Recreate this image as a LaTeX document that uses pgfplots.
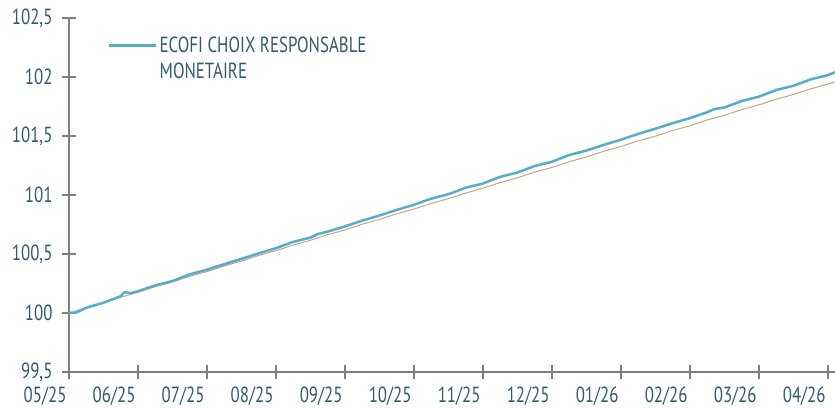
\documentclass[border=0pt]{standalone}
\usepackage{pgfplots}
\pgfplotsset{compat=1.18}
\usepackage{fontspec}
\setmainfont{PT Sans}[FakeStretch=0.77]
\definecolor{txt}{HTML}{2F5B6C}
\definecolor{ax}{HTML}{7F7F7F}
\definecolor{blu}{HTML}{55ADC8}
\definecolor{brn}{HTML}{C4A484}
\begin{document}
\begin{tikzpicture}
\begin{axis}[name=a,
  scale only axis, width=766bp, height=354bp,
  xmin=0, xmax=11.1, ymin=99.5, ymax=102.5,
  axis x line=bottom, axis y line=left,
  axis line style={-, draw=ax, line width=1.3bp},
  tick style={draw=ax, line width=1.3bp},
  tick align=center, major tick length=14bp,
  xtick={0,1,2,3,4,5,6,7,8,9,10,11},
  xticklabels={05/25,06/25,07/25,08/25,09/25,10/25,11/25,12/25,01/26,02/26,03/26,04/26},
  ytick={99.5,100,100.5,101,101.5,102,102.5},
  yticklabels={{99,5},100,{100,5},101,{101,5},102,{102,5}},
  xticklabel style={anchor=north east, xshift=1bp, yshift=-4bp},
  yticklabel style={xshift=-6bp},
  ticklabel style={font=\fontsize{22}{24}\selectfont, text=txt},
  /pgf/number format/assume math mode=true,
  legend style={draw=none, fill=none, at={(0.047,0.958)}, anchor=north west,
    font=\fontsize{22}{24}\selectfont, text=txt, row sep=5bp,
    legend cell align=left},
  legend image code/.code={\draw[#1] (0bp,0bp) -- (47bp,0bp);},
  clip=false,
]
\addplot[brn, line width=1bp, forget plot] coordinates {
(0,100.000)(0.25,100.046)(0.5,100.086)(0.75,100.134)(1.0,100.175)(1.25,100.223)(1.5,100.263)(1.75,100.311)
(2.0,100.351)(2.25,100.399)(2.5,100.440)(2.75,100.488)(3.0,100.528)(3.25,100.576)(3.5,100.616)(3.75,100.664)
(4.0,100.704)(4.25,100.753)(4.5,100.793)(4.75,100.841)(5.0,100.881)(5.25,100.929)(5.5,100.969)(5.75,101.017)
(6.0,101.058)(6.25,101.106)(6.5,101.146)(6.75,101.194)(7.0,101.234)(7.25,101.282)(7.5,101.323)(7.75,101.371)
(8.0,101.411)(8.25,101.459)(8.5,101.499)(8.75,101.547)(9.0,101.587)(9.25,101.636)(9.5,101.676)(9.75,101.724)
(10.0,101.764)(10.25,101.812)(10.5,101.852)(10.75,101.900)(11.0,101.941)(11.1,101.960)
};
\addplot[blu, line width=2.5bp] coordinates {
(0,100.000)(0.1,100.002)(0.25,100.045)(0.5,100.087)(0.75,100.142)(0.8,100.175)(0.9,100.170)(1.0,100.184)
(1.25,100.235)(1.5,100.271)(1.75,100.328)(2.0,100.367)(2.25,100.414)(2.5,100.459)(2.75,100.506)
(3.0,100.549)(3.25,100.603)(3.5,100.639)(3.6,100.668)(3.75,100.690)(4.0,100.734)(4.25,100.783)
(4.5,100.826)(4.75,100.874)(5.0,100.918)(5.25,100.969)(5.5,101.007)(5.75,101.062)(6.0,101.098)
(6.25,101.154)(6.5,101.191)(6.75,101.246)(7.0,101.282)(7.25,101.339)(7.5,101.377)(7.75,101.425)
(8.0,101.469)(8.25,101.518)(8.5,101.562)(8.75,101.609)(9.0,101.652)(9.25,101.702)(9.35,101.728)
(9.5,101.742)(9.75,101.797)(10.0,101.834)(10.25,101.890)(10.5,101.926)(10.75,101.980)(11.0,102.017)(11.1,102.040)
};
\addlegendentry{ECOFI CHOIX RESPONSABLE}
\addlegendimage{empty legend}
\addlegendentry{MONETAIRE}
\end{axis}
\pgfresetboundingbox
\path[use as bounding box] ([xshift=-69bp,yshift=-39bp]a.south west) rectangle ([yshift=18bp]a.north east);
\end{tikzpicture}
\end{document}
